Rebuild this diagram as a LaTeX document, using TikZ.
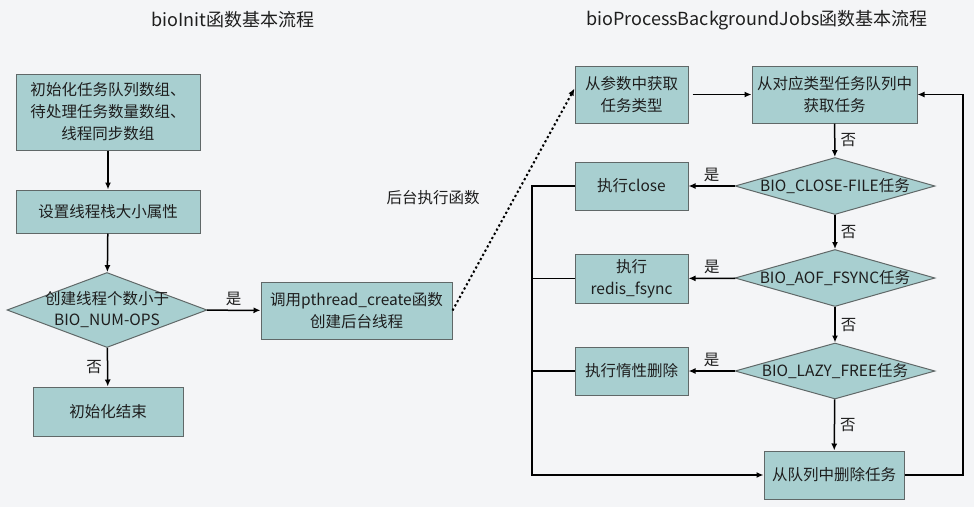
\documentclass[tikz,border=0pt]{standalone}
\usepackage{fontspec}
\setmainfont{Noto Sans CJK SC}
\usetikzlibrary{shapes.geometric,arrows.meta}
\definecolor{BoxClr}{RGB}{168,207,208}
\definecolor{EdgeClr}{RGB}{96,104,104}
\definecolor{BgClr}{RGB}{244,245,247}
\definecolor{TxtClr}{RGB}{30,30,30}

\tikzset{
  box/.style={draw=EdgeClr,fill=BoxClr,line width=1pt,align=center,inner sep=0pt,
    text=TxtClr,font=\fontsize{15.5}{22}\selectfont},
  judge/.style={diamond,draw=EdgeClr,fill=BoxClr,line width=1pt,inner sep=0pt,
    label={[text=TxtClr,font=\fontsize{15.5}{21}\selectfont,align=center]center:#1}},
  tag/.style={text=TxtClr,inner sep=1pt,font=\fontsize{15.5}{18}\selectfont},
  flow/.style={line width=1.5pt,-{Latex[length=7pt,width=6pt]}},
  loop/.style={line width=1.5pt},
  dotflow/.style={line width=2pt,dash pattern=on 2.2pt off 2.6pt,-{Latex[length=7pt,width=6pt]}},
}

\begin{document}
\begin{tikzpicture}[x=1pt,y=-1pt]
\fill[BgClr] (0,0) rectangle (974,507);

% titles
\node[tag,font=\fontsize{18}{20}\selectfont] (t1) at (233,20) {bioInit函数基本流程};
\node[tag,font=\fontsize{18}{20}\selectfont] (t2) at (757,20) {bioProcessBackgroundJobs函数基本流程};

% bioInit
\node[box,minimum width=184,minimum height=76] (init) at (108,112)
  {初始化任务队列数组、\\待处理任务数量数组、\\线程同步数组};
\node[box,minimum width=184,minimum height=43] (attr) at (108,211.5) {设置线程栈大小属性};
\node[judge={创建线程个数小于\\BIO\_NUM-OPS},minimum width=200,minimum height=75] (num) at (107,310) {};
\node[box,minimum width=150,minimum height=49] (done) at (108,411.5) {初始化结束};
\node[box,minimum width=191,minimum height=57] (create) at (356.5,310.5)
  {调用pthread\_create函数\\创建后台线程};

\draw[flow] (init) -- (attr);
\draw[flow] (attr) -- (num);
\draw[flow] (num) -- node[tag,left=4pt] (n0) {否} (done);
\draw[flow] (num) -- node[tag,above=3pt] (y0) {是} (create);

\node[tag] (bgjob) at (433,198) {后台执行函数};

% bioProcessBackgroundJobs
\node[box,minimum width=113,minimum height=57] (A) at (631.5,94.5) {从参数中获取\\任务类型};
\node[box,minimum width=165,minimum height=57] (B) at (834.5,94.5) {从对应类型任务队列中\\获取任务};
\node[judge={BIO\_CLOSE-FILE任务},minimum width=200,minimum height=57] (d1) at (835,186) {};
\node[judge={BIO\_AOF\_FSYNC任务},minimum width=200,minimum height=57] (d2) at (835,278) {};
\node[judge={BIO\_LAZY\_FREE任务},minimum width=200,minimum height=56] (d3) at (835,371) {};
\node[box,minimum width=113,minimum height=48] (C) at (631.5,186) {执行close};
\node[box,minimum width=113,minimum height=49] (D) at (631.5,278.5) {执行\\redis\_fsync};
\node[box,minimum width=113,minimum height=48] (E) at (631.5,371) {执行惰性删除};
\node[box,minimum width=140,minimum height=48] (F) at (834,475) {从队列中删除任务};

\coordinate (lp) at (532,475);
\coordinate (rp) at (963,475);

\draw[dotflow] (create.east) -- ([yshift=6pt]A.west);

\draw[flow,shorten <=4pt] (A) -- (B);
\draw[flow] (B) -- node[tag,right=4pt] (n1) {否} (d1);
\draw[flow] (d1) -- node[tag,right=4pt] (n2) {否} (d2);
\draw[flow] (d2) -- node[tag,right=4pt] (n3) {否} (d3);
\draw[flow] (d3) -- node[tag,right=4pt] (n4) {否} (F);
\draw[flow] (d1) -- node[tag,above=3pt] (y1) {是} (C);
\draw[flow] (d2) -- node[tag,above=3pt] (y2) {是} (D);
\draw[flow] (d3) -- node[tag,above=3pt] (y3) {是} (E);

\draw[flow] (C.west) -| (lp) -- (F.west);
\draw[loop] (D.west) -- (D.west -| lp);
\draw[loop] (E.west) -- (E.west -| lp);
\draw[flow] (F.east) -- (rp) |- (B.east);

\end{tikzpicture}
\end{document}
